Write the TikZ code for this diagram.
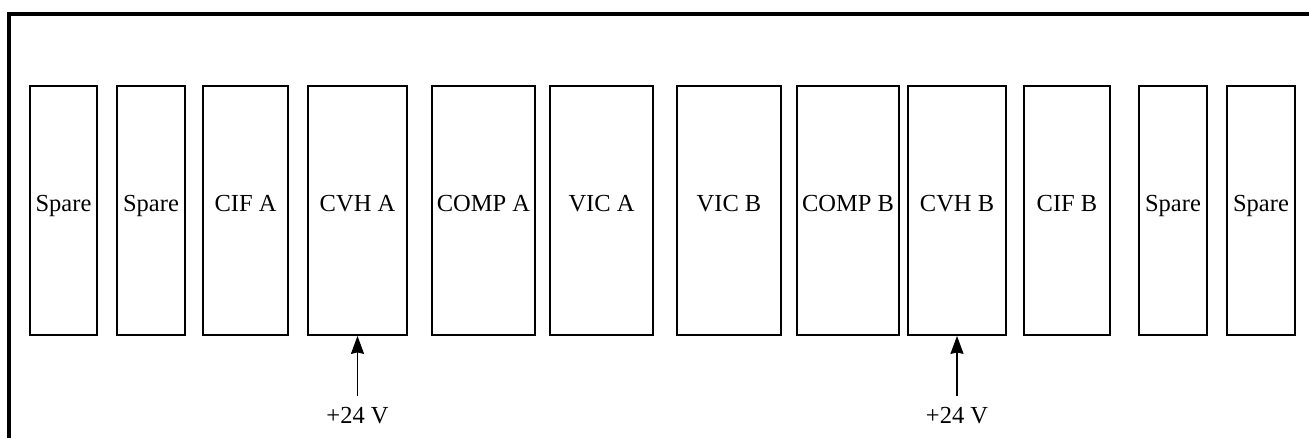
\documentclass[tikz,border=0pt]{standalone}
\usepackage{fontspec}
\setmainfont{Liberation Serif}
\usetikzlibrary{arrows.meta}
\begin{document}
\begin{tikzpicture}[x=1pt,y=-1pt,
  slot/.style={draw, line width=1.8pt, inner sep=0pt, minimum height=249pt,
    text height=14pt, text depth=12pt, font=\fontsize{24.5}{28}\selectfont},
  lbl/.style={anchor=base, inner sep=0pt, font=\fontsize{24.5}{28}\selectfont},
  feed/.style={line width=1.8pt, -{Stealth[length=18pt, width=13pt, inset=1.5pt]}},
  frame/.style={line width=3.2pt}]
\useasboundingbox (0,0) rectangle (1309,438);
\clip (0,0) rectangle (1309,438);
\draw[frame] (9,460) -- (9,14) -- (1330,14);
\node[slot, minimum width=67pt]  (s1)   at (63.5,210.5)  {Spare};
\node[slot, minimum width=68pt]  (s2)   at (151,210.5)   {Spare};
\node[slot, minimum width=85pt]  (cifa) at (245.5,210.5) {CIF A};
\node[slot, minimum width=99pt]  (cvha) at (357.5,210.5) {CVH A};
\node[slot, minimum width=103pt] (cmpa) at (483.5,210.5) {COMP A};
\node[slot, minimum width=103pt] (vica) at (601.5,210.5) {VIC A};
\node[slot, minimum width=104pt] (vicb) at (729,210.5)   {VIC B};
\node[slot, minimum width=102pt] (cmpb) at (848,210.5)   {COMP B};
\node[slot, minimum width=98pt]  (cvhb) at (957,210.5)   {CVH B};
\node[slot, minimum width=86pt]  (cifb) at (1067,210.5)  {CIF B};
\node[slot, minimum width=68pt]  (s3)   at (1173,210.5)  {Spare};
\node[slot, minimum width=68pt]  (s4)   at (1261,210.5)  {Spare};
\coordinate (pa) at (357.5,396);
\coordinate (pb) at (957,396);
\draw[feed] (pa) -- (cvha.south);
\draw[feed] (pb) -- (cvhb.south);
\node[lbl] (va) at (357.5,423) {+24 V};
\node[lbl] (vb) at (957,423) {+24 V};
\end{tikzpicture}
\end{document}
